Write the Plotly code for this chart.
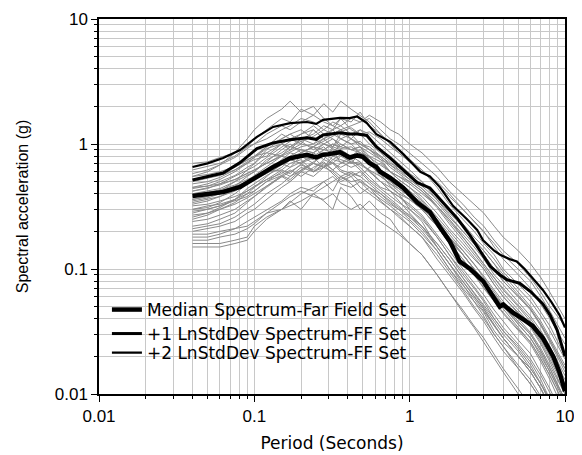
import plotly.graph_objects as go

# Period grid (s) shared by the individual record spectra
PERIODS = [0.04, 0.05, 0.06, 0.075, 0.09, 0.1, 0.12, 0.15, 0.17, 0.2, 0.24, 0.28, 0.32, 0.36,
           0.42, 0.48, 0.55, 0.65, 0.75, 0.85, 1.0, 1.2, 1.5, 1.8, 2.2, 2.6, 3.0, 3.5, 4.0,
           5.0, 6.0, 7.0, 8.0, 10.0]

# Individual record spectra (g), read/
REC_01 = [.62, .66, .70, .80, .95, 1.1, 1.3, 1.6, 1.5, 1.9, 1.7, 2.1, 1.8, 2.2, 1.9, 1.7, 1.5, 1.2, 1.0, .90, .75, .62, .45, .33, .25, .20, .16, .13, .10, .075, .06, .045, .035, .02]
REC_02 = [.55, .60, .68, .85, 1.1, 1.3, 1.6, 1.9, 2.2, 1.8, 2.0, 1.6, 1.4, 1.3, 1.1, .95, .75, .58, .46, .40, .30, .24, .15, .11, .075, .055, .042, .030, .024, .016, .012, .009, .007, .004]
REC_03 = [.42, .45, .47, .52, .58, .62, .70, .80, .85, .95, 1.0, 1.1, 1.2, 1.3, 1.4, 1.5, 1.6, 1.3, 1.1, 1.0, .85, .70, .55, .42, .33, .26, .22, .17, .14, .11, .085, .065, .05, .035]
REC_04 = [.30, .32, .33, .36, .40, .42, .50, .60, .55, .65, .60, .70, .62, .55, .50, .52, .45, .38, .33, .30, .25, .20, .14, .10, .07, .055, .045, .032, .026, .020, .016, .012, .009, .006]
REC_05 = [.45, .48, .52, .60, .70, .78, .95, 1.2, 1.1, 1.0, 1.3, 1.1, .95, 1.1, 1.0, .85, .75, .62, .55, .50, .42, .35, .25, .18, .13, .10, .08, .06, .05, .038, .03, .022, .016, .009]
REC_06 = [.20, .21, .22, .24, .28, .30, .36, .45, .50, .60, .70, .65, .80, .75, .70, .85, .80, .60, .50, .46, .38, .30, .22, .16, .12, .09, .07, .055, .045, .033, .026, .019, .014, .008]
REC_07 = [.35, .37, .40, .46, .55, .60, .72, .90, 1.0, .85, .95, .80, .90, .70, .75, .65, .55, .45, .42, .35, .28, .22, .15, .11, .08, .06, .048, .035, .028, .020, .015, .011, .008, .005]
REC_08 = [.25, .27, .30, .34, .40, .45, .55, .70, .65, .80, .75, .90, 1.0, .95, 1.1, 1.0, .90, .75, .60, .52, .45, .36, .26, .20, .15, .12, .10, .075, .06, .045, .035, .026, .019, .011]
REC_09 = [.70, .72, .78, .85, .95, 1.0, 1.1, 1.3, 1.4, 1.6, 1.5, 1.3, 1.5, 1.4, 1.2, 1.3, 1.1, .90, .80, .70, .58, .50, .36, .27, .20, .16, .13, .10, .08, .06, .048, .036, .027, .016]
REC_10 = [.16, .16, .16, .17, .18, .22, .26, .30, .34, .40, .45, .50, .42, .55, .48, .40, .45, .35, .30, .26, .22, .18, .12, .09, .065, .048, .038, .028, .022, .016, .012, .009, .006, .004]
REC_11 = [.40, .42, .44, .50, .56, .60, .75, .85, .95, 1.1, 1.0, 1.2, 1.1, 1.0, .90, .95, .80, .72, .60, .55, .48, .40, .32, .25, .18, .14, .11, .085, .07, .052, .04, .03, .022, .013]
REC_12 = [.30, .31, .34, .40, .48, .55, .60, .62, .70, .75, .60, .65, .70, .60, .55, .60, .50, .42, .36, .32, .26, .22, .16, .12, .085, .065, .052, .04, .032, .024, .018, .013, .009, .005]
REC_13 = [.50, .53, .56, .62, .70, .75, .80, 1.0, .90, 1.1, 1.2, 1.4, 1.3, 1.6, 1.5, 1.8, 1.4, 1.2, 1.0, .85, .72, .60, .50, .40, .30, .24, .20, .15, .12, .09, .07, .052, .04, .025]
REC_14 = [.19, .19, .20, .21, .22, .24, .28, .30, .32, .35, .40, .45, .50, .55, .60, .55, .65, .70, .60, .55, .50, .42, .32, .25, .19, .15, .12, .09, .075, .055, .042, .032, .024, .014]
REC_15 = [.36, .38, .42, .50, .62, .70, .85, .80, .95, .90, .85, .95, .80, .85, .70, .72, .60, .50, .42, .38, .32, .26, .18, .13, .09, .07, .055, .04, .032, .023, .017, .012, .009, .005]
REC_16 = [.28, .30, .32, .36, .42, .46, .52, .62, .58, .70, .85, .75, .95, .90, .80, .78, .70, .62, .55, .48, .40, .34, .25, .19, .14, .11, .085, .065, .052, .038, .03, .022, .016, .009]
REC_17 = [.45, .46, .50, .56, .65, .70, .90, 1.1, 1.2, 1.3, 1.1, 1.0, 1.1, .95, .90, .85, .70, .55, .48, .42, .36, .30, .22, .16, .12, .09, .072, .055, .044, .032, .025, .018, .013, .007]
REC_18 = [.15, .15, .15, .16, .17, .20, .25, .30, .35, .30, .40, .35, .30, .45, .38, .30, .35, .28, .25, .20, .16, .13, .09, .065, .045, .034, .026, .019, .015, .010, .0075, .0055, .004, .0025]
REC_19 = [.52, .55, .58, .65, .75, .80, .85, 1.0, 1.1, 1.2, 1.4, 1.2, 1.3, 1.1, 1.2, 1.0, .95, .80, .70, .65, .55, .48, .38, .30, .23, .18, .15, .12, .095, .07, .055, .042, .032, .019]
REC_20 = [.33, .35, .38, .42, .48, .52, .60, .75, .85, .80, .70, .85, .75, .72, .65, .70, .62, .50, .45, .40, .36, .30, .22, .17, .13, .10, .08, .062, .05, .036, .028, .021, .015, .009]
REC_21 = [.38, .40, .42, .46, .50, .54, .60, .70, .78, .85, .95, 1.1, 1.3, 1.4, 1.6, 1.5, 1.7, 1.5, 1.3, 1.2, 1.0, .85, .65, .50, .40, .33, .28, .22, .18, .14, .11, .085, .065, .04]
REC_22 = [.24, .25, .27, .30, .35, .38, .45, .55, .50, .60, .55, .65, .60, .52, .58, .50, .45, .40, .34, .30, .26, .21, .15, .11, .08, .06, .048, .036, .028, .02, .015, .011, .008, .0045]
REC_23 = [.42, .44, .48, .55, .62, .66, .78, .95, 1.05, 1.2, 1.3, 1.1, 1.2, 1.3, 1.1, 1.0, .90, .80, .68, .60, .52, .44, .34, .26, .20, .16, .13, .10, .08, .06, .047, .035, .026, .015]
REC_24 = [.22, .23, .25, .28, .34, .38, .46, .56, .62, .55, .65, .72, .62, .70, .80, .72, .60, .50, .42, .38, .33, .27, .19, .14, .10, .078, .062, .047, .038, .027, .021, .015, .011, .006]
REC_25 = [.48, .50, .54, .62, .72, .78, .92, 1.0, .95, 1.05, .90, 1.0, .92, .85, .80, .90, .75, .62, .55, .48, .40, .33, .24, .18, .13, .10, .08, .06, .048, .034, .026, .019, .014, .008]
REC_26 = [.18, .18, .19, .21, .24, .26, .30, .35, .40, .45, .42, .50, .55, .48, .45, .50, .42, .36, .32, .28, .24, .19, .14, .10, .075, .058, .046, .035, .028, .02, .015, .011, .008, .0045]
REC_27 = [.58, .62, .68, .78, .92, 1.0, 1.2, 1.4, 1.3, 1.5, 1.7, 1.5, 1.4, 1.6, 1.3, 1.2, 1.0, .85, .72, .62, .52, .44, .32, .24, .18, .14, .11, .085, .068, .05, .038, .028, .021, .012]
REC_28 = [.32, .33, .35, .38, .42, .45, .52, .58, .65, .72, .80, .90, .85, 1.0, .90, .95, .85, .75, .68, .62, .55, .46, .36, .28, .22, .17, .14, .11, .09, .065, .05, .038, .028, .017]
REC_29 = [.26, .28, .31, .36, .44, .48, .56, .65, .75, .70, .60, .68, .58, .50, .55, .45, .40, .34, .30, .27, .22, .18, .13, .095, .068, .05, .04, .03, .024, .017, .013, .0095, .007, .004]
REC_30 = [.40, .41, .43, .47, .52, .55, .62, .72, .80, .90, .85, 1.0, .95, 1.2, 1.1, 1.3, 1.2, 1.0, .85, .75, .62, .50, .38, .29, .22, .17, .14, .11, .085, .062, .048, .036, .027, .016]
REC_31 = [.17, .17, .18, .19, .21, .23, .28, .34, .38, .42, .38, .36, .40, .34, .30, .33, .28, .24, .21, .19, .16, .13, .09, .065, .047, .035, .028, .021, .016, .011, .008, .006, .0043, .0025]
REC_32 = [.36, .38, .40, .44, .50, .52, .58, .68, .75, .85, .95, .90, 1.0, .92, .95, .85, .78, .68, .60, .52, .45, .38, .28, .21, .16, .125, .10, .075, .06, .044, .034, .025, .018, .01]
REC_33 = [.55, .57, .60, .66, .74, .80, .95, 1.1, 1.2, 1.05, 1.15, 1.3, 1.2, 1.1, 1.0, 1.05, .90, .78, .65, .58, .50, .42, .31, .23, .17, .13, .105, .08, .064, .047, .036, .027, .02, .011]
REC_34 = [.21, .22, .23, .26, .30, .33, .40, .48, .55, .62, .70, .65, .75, .82, .75, .80, .70, .58, .50, .44, .38, .32, .24, .18, .14, .11, .088, .068, .055, .04, .031, .023, .017, .01]
REC_35 = [.29, .30, .32, .35, .38, .42, .50, .56, .52, .62, .72, .80, .70, .65, .72, .62, .52, .44, .38, .34, .30, .25, .18, .13, .095, .072, .057, .043, .034, .025, .019, .014, .01, .006]
REC_36 = [.44, .46, .48, .52, .58, .62, .70, .82, .90, 1.0, .95, 1.05, 1.15, 1.25, 1.35, 1.2, 1.25, 1.1, .95, .85, .72, .62, .48, .38, .30, .24, .20, .16, .13, .10, .08, .06, .046, .028]
REC_37 = [.34, .36, .38, .43, .50, .56, .66, .80, .75, .70, .78, .65, .72, .62, .58, .55, .48, .40, .35, .31, .27, .22, .16, .12, .085, .064, .05, .038, .03, .022, .016, .012, .0085, .005]
REC_38 = [.27, .28, .30, .33, .37, .40, .46, .54, .60, .68, .62, .75, .70, .80, .72, .68, .62, .55, .48, .44, .38, .31, .23, .17, .13, .10, .082, .062, .05, .036, .028, .02, .015, .0085]

RECORDS = [REC_01, REC_02, REC_03, REC_04, REC_05, REC_06, REC_07, REC_08, REC_09, REC_10,
           REC_11, REC_12, REC_13, REC_14, REC_15, REC_16, REC_17, REC_18, REC_19, REC_20,
           REC_21, REC_22, REC_23, REC_24, REC_25, REC_26, REC_27, REC_28, REC_29, REC_30,
           REC_31, REC_32, REC_33, REC_34, REC_35, REC_36, REC_37, REC_38]

# Statistical spectra (black lines)
MED_T = [0.04, 0.05, 0.063, 0.081, 0.104, 0.132, 0.17, 0.2, 0.218, 0.25, 0.277, 0.3, 0.356, 0.41,
         0.46, 0.5, 0.55, 0.61, 0.645, 0.75, 0.91, 1.12, 1.35, 1.57, 1.82, 2.1, 2.45, 2.97, 3.4,
         3.8, 4.0, 4.6, 5.3, 6.2, 7.2, 8.4, 9.2, 10.0]
MED_SA = [0.384, 0.40, 0.413, 0.453, 0.545, 0.655, 0.77, 0.80, 0.82, 0.78, 0.82, 0.83, 0.86, 0.78,
          0.81, 0.79, 0.705, 0.655, 0.60, 0.535, 0.445, 0.34, 0.286, 0.215, 0.165, 0.115, 0.10, 0.08,
          0.063, 0.05, 0.052, 0.045, 0.04, 0.035, 0.028, 0.02, 0.015, 0.0105]

P1_T = [0.04, 0.05, 0.063, 0.081, 0.104, 0.132, 0.17, 0.218, 0.25, 0.277, 0.356, 0.41, 0.46, 0.53,
        0.61, 0.75, 0.91, 1.12, 1.35, 1.64, 2.02, 2.45, 2.9, 3.3, 3.8, 4.24, 5.1, 6.0, 7.2, 8.0,
        8.9, 10.0]
P1_SA = [0.515, 0.55, 0.586, 0.71, 0.92, 1.02, 1.08, 1.12, 1.09, 1.18, 1.23, 1.2, 1.2, 1.17,
         0.95, 0.77, 0.62, 0.49, 0.445, 0.34, 0.255, 0.185, 0.135, 0.105, 0.09, 0.082, 0.077,
         0.066, 0.0525, 0.043, 0.0325, 0.02]

P2_T = [0.04, 0.05, 0.063, 0.081, 0.104, 0.132, 0.17, 0.218, 0.25, 0.277, 0.356, 0.41, 0.46, 0.53,
        0.61, 0.75, 0.91, 1.17, 1.35, 1.57, 1.9, 2.34, 2.72, 2.97, 3.5, 3.82, 4.4, 4.9, 5.5, 6.2,
        7.2, 8.2, 9.2, 10.0]
P2_SA = [0.655, 0.70, 0.773, 0.895, 1.14, 1.37, 1.47, 1.5, 1.45, 1.56, 1.62, 1.61, 1.66, 1.47,
         1.2, 1.04, 0.83, 0.6, 0.55, 0.45, 0.32, 0.25, 0.205, 0.17, 0.14, 0.13, 0.12, 0.115,
         0.10, 0.084, 0.068, 0.054, 0.043, 0.034]

LEGEND_NAMES = ["Median Spectrum-Far Field Set",
                "+1 LnStdDev Spectrum-FF Set",
                "+2 LnStdDev Spectrum-FF Set"]

X_TICKS = [0.01, 0.1, 1, 10]
X_TICK_TEXT = ["0.01", "0.1", "1", "10"]
Y_TICKS = [0.01, 0.1, 1, 10]
Y_TICK_TEXT = ["0.01", "0.1", "1", "10"]

ARIAL = "Liberation Sans, Arial, sans-serif"
WIDE = "DejaVu Sans, Verdana, sans-serif"
GRID = "#c8c8c8"

fig = go.Figure()

for rec in RECORDS:
    fig.add_trace(go.Scatter(x=PERIODS, y=rec, mode="lines",
                             line=dict(color="#8a8a8a", width=1),
                             showlegend=False, hoverinfo="skip"))

fig.add_trace(go.Scatter(x=MED_T, y=MED_SA, mode="lines", name=LEGEND_NAMES[0],
                         line=dict(color="black", width=4.5), legend="legend"))
fig.add_trace(go.Scatter(x=P1_T, y=P1_SA, mode="lines", name=LEGEND_NAMES[1],
                         line=dict(color="black", width=3), legend="legend2"))
fig.add_trace(go.Scatter(x=P2_T, y=P2_SA, mode="lines", name=LEGEND_NAMES[2],
                         line=dict(color="black", width=2.2), legend="legend3"))

axis_common = dict(
    type="log", range=[-2, 1], automargin=False,
    showline=True, linecolor="black", linewidth=1.5, mirror=True,
    ticks="outside", ticklen=6, tickwidth=1.2, tickcolor="black",
    showgrid=True, gridcolor=GRID, gridwidth=1,
    tickfont=dict(family=ARIAL, size=17, color="black"),
    zeroline=False,
    minor=dict(dtick="D1", ticks="outside", ticklen=3, tickcolor="black",
               showgrid=True, gridcolor=GRID, gridwidth=1),
)

fig.update_xaxes(**axis_common, tickvals=X_TICKS, ticktext=X_TICK_TEXT,
                 title=dict(text="Period (Seconds)", font=dict(family=WIDE, size=17, color="black"),
                            standoff=12))
fig.update_yaxes(**axis_common, tickvals=Y_TICKS, ticktext=Y_TICK_TEXT,
                 title=dict(text="Spectral acceleration (g)", font=dict(family=ARIAL, size=16, color="black"),
                            standoff=22))

leg_common = dict(xanchor="left", yanchor="middle", bgcolor="rgba(0,0,0,0)", borderwidth=0,
                  font=dict(family=WIDE, size=17, color="black"), itemwidth=30)

fig.update_layout(
    width=574, height=447,
    margin=dict(l=91, r=17, t=11, b=61, autoexpand=False),
    paper_bgcolor="white", plot_bgcolor="white",
    font=dict(family=ARIAL, size=16, color="black"),
    showlegend=True,
    legend=dict(x=0.017, y=0.224, **leg_common),
    legend2=dict(x=0.017, y=0.16, **leg_common),
    legend3=dict(x=0.017, y=0.109, **leg_common),
)

fig.write_html("out.html")
